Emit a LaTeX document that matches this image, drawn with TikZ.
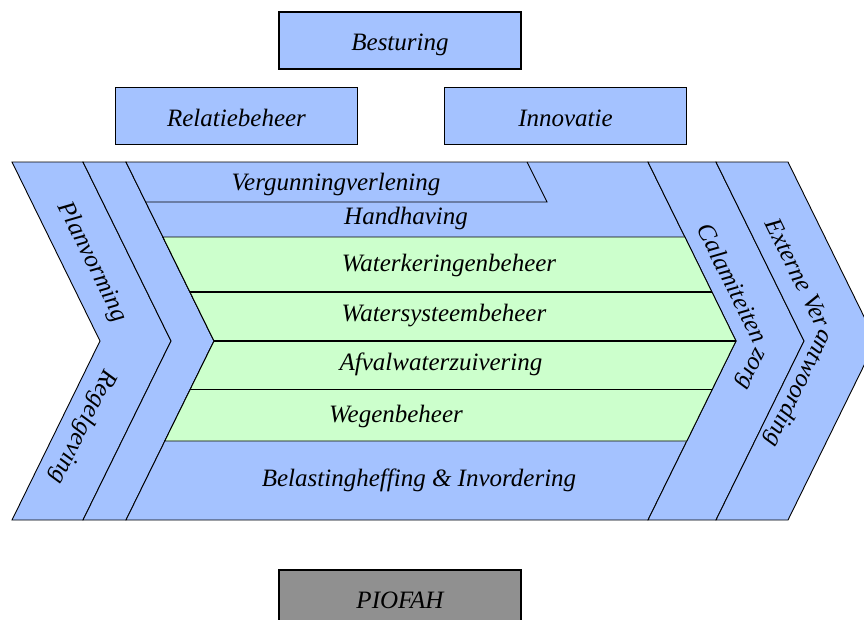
\documentclass[tikz,border=0pt]{standalone}
\usepackage{fontspec}
\setmainfont{Liberation Serif}
\definecolor{boxblue}{RGB}{164,194,255}
\definecolor{boxgreen}{RGB}{204,255,204}
\definecolor{boxgray}{RGB}{144,144,144}

\begin{document}
\begin{tikzpicture}[x=1pt,y=-1pt,line width=0.9pt,
        lbl/.style={font=\fontsize{25}{30}\selectfont\itshape, inner sep=0pt},
        topbox/.style={lbl, draw, line width=1.2pt, fill=boxblue, text height=24pt, text depth=4pt,
            minimum width=242pt, minimum height=57pt}]
        \useasboundingbox (0,0) rectangle (864,619);
        \clip (0,0) rectangle (864,619);

        % boxes above and below
        \node[topbox] (besturing) at (400,40.5) {Besturing};
        \node[topbox] (relatie) at (236.5,116) {Relatiebeheer};
        \node[topbox] (innovatie) at (565.5,116) {Innovatie};
        \node[topbox, fill=boxgray] (piofah) at (400,598.5) {PIOFAH};

        % chevron bands
        \filldraw[fill=boxblue] (12,162) -- (83,162) -- (171,341) -- (83,520) -- (12,520) -- (100,341) -- cycle;
        \filldraw[fill=boxblue] (83,162) -- (126,162) -- (214,341) -- (126,520) -- (83,520) -- (171,341) -- cycle;
        \filldraw[fill=boxblue] (126,162) -- (648,162) -- (736,341) -- (648,520) -- (126,520) -- (214,341) -- cycle;
        \filldraw[fill=boxblue] (648,162) -- (716,162) -- (804,341) -- (716,520) -- (648,520) -- (736,341) -- cycle;
        \filldraw[fill=boxblue] (716,162) -- (788,162) -- (876,341) -- (788,520) -- (716,520) -- (804,341) -- cycle;

        % primary rows
        \filldraw[fill=boxgreen] (162.9,237) -- (684.9,237) -- (736,341) -- (686.8,441) -- (164.8,441) -- (214,341) -- cycle;
        \draw[line width=1.1pt] (189.9,292) -- (711.9,292);
        \draw[line width=1.1pt] (214,341) -- (736,341);
        \draw[line width=0.6pt] (190.4,389) -- (712.4,389);

        \draw (145.7,202) -- (547,202) -- (527,162);

        \node[lbl] (vergunning) at (336,184) {Vergunningverlening};
        \node[lbl] (handhaving) at (406,218) {Handhaving};
        \node[lbl] (keringen) at (449,265) {Waterkeringenbeheer};
        \node[lbl] (systeem) at (444,316) {Watersysteembeheer};
        \node[lbl] (afval) at (441,364) {Afvalwaterzuivering};
        \node[lbl] (wegen) at (396,416) {Wegenbeheer};
        \node[lbl] (belasting) at (419,480) {Belastingheffing \& Invordering};

        % texts along the chevrons
        \node[lbl, rotate=-63.8] (planvorming) at (92,262) {Planvorming};
        \node[lbl, rotate=-116.2] (regelgeving) at (83,427) {Regelgeving};
        \node[lbl, rotate=-63.8] (calamiteiten) at (733,283) {Calamiteiten};
        \node[lbl, rotate=-116.2] (zorg) at (749,368) {zorg};
        \node[lbl, rotate=-63.8] (externe) at (798,273) {Externe Ver};
        \node[lbl, rotate=-116.2] (antwoording) at (798,388) {antwoording};
\end{tikzpicture}
\end{document}
